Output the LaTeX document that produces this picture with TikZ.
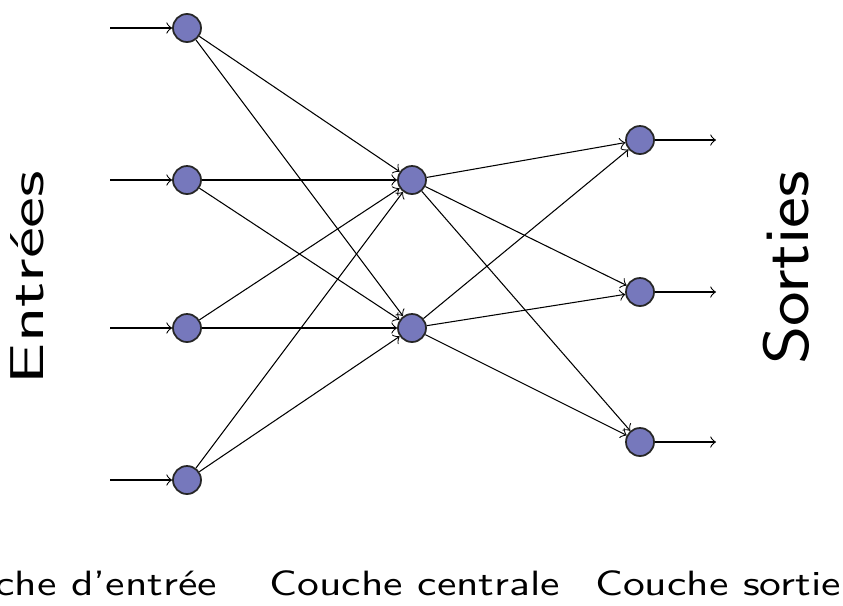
\documentclass[tikz,border=0pt]{standalone}
\usepackage{graphicx}
\usepackage{tikz}
\usetikzlibrary{positioning}

\definecolor{neurone}{RGB}{118,120,188}

\begin{document}
\begin{tikzpicture}[scale=1,
    neurone/.style={circle, fill=neurone, draw=black!85, line width=0.5pt, minimum size=0.28cm, inner sep=0pt},
    lien/.style={->, line width=0.3pt}]

    \useasboundingbox (0,0) rectangle (8.43,6.05);

    % couche d'entree
    \node [neurone] (I1) at (1.87,5.77) {};
    \node [neurone] (I2) at (1.87,4.25) {};
    \node [neurone] (I3) at (1.87,2.77) {};
    \node [neurone] (I4) at (1.87,1.25) {};

    % couche centrale
    \node [neurone] (C1) at (4.12,4.25) {};
    \node [neurone] (C2) at (4.12,2.77) {};

    % couche sortie
    \node [neurone] (S1) at (6.40,4.65) {};
    \node [neurone] (S2) at (6.40,3.13) {};
    \node [neurone] (S3) at (6.40,1.63) {};

    \coordinate (e1) at (1.10,5.77);
    \coordinate (e2) at (1.10,4.25);
    \coordinate (e3) at (1.10,2.77);
    \coordinate (e4) at (1.10,1.25);
    \coordinate (s1) at (7.16,4.65);
    \coordinate (s2) at (7.16,3.13);
    \coordinate (s3) at (7.16,1.63);

    \draw [lien] (e1) -- (I1);
    \draw [lien] (e2) -- (I2);
    \draw [lien] (e3) -- (I3);
    \draw [lien] (e4) -- (I4);

    \draw [lien] (I1) -- (C1);
    \draw [lien] (I1) -- (C2);
    \draw [lien] (I2) -- (C1);
    \draw [lien] (I2) -- (C2);
    \draw [lien] (I3) -- (C1);
    \draw [lien] (I3) -- (C2);
    \draw [lien] (I4) -- (C1);
    \draw [lien] (I4) -- (C2);

    \draw [lien] (C1) -- (S1);
    \draw [lien] (C1) -- (S2);
    \draw [lien] (C1) -- (S3);
    \draw [lien] (C2) -- (S1);
    \draw [lien] (C2) -- (S2);
    \draw [lien] (C2) -- (S3);

    \draw [lien] (S1) -- (s1);
    \draw [lien] (S2) -- (s2);
    \draw [lien] (S3) -- (s3);

    \node [rotate=90, anchor=base, inner sep=0pt] (entrees) at (0.43,3.275)
        {\fontsize{13.5}{16}\sffamily\scalebox{1.49}[1]{Entrées}};
    \node [rotate=90, anchor=base, inner sep=0pt] (sorties) at (8.08,3.37)
        {\fontsize{18.2}{21}\sffamily\scalebox{1.15}[1]{Sorties}};

    \node [anchor=base, inner sep=0pt] (l1) at (0.70,0.10)
        {\fontsize{10}{12}\sffamily\scalebox{1.24}[1]{Couche d'entrée}};
    \node [anchor=base, inner sep=0pt] (l2) at (4.15,0.10)
        {\fontsize{10}{12}\sffamily\scalebox{1.24}[1]{Couche centrale}};
    \node [anchor=base, inner sep=0pt] (l3) at (7.18,0.10)
        {\fontsize{10}{12}\sffamily\scalebox{1.24}[1]{Couche sortie}};

\end{tikzpicture}
\end{document}
